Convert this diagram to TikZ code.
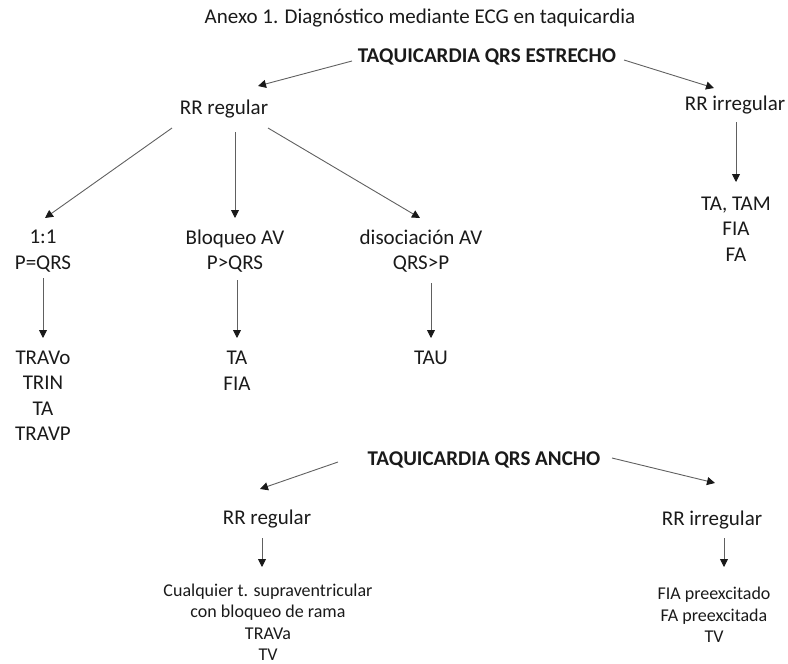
\documentclass[tikz,border=0pt]{standalone}
\usepackage{fontspec}
\setmainfont{Carlito}
\usetikzlibrary{arrows.meta}
\definecolor{txt}{HTML}{1A1A1A}
\definecolor{ln}{HTML}{606060}
\begin{document}
\begin{tikzpicture}[x=1pt,y=-1pt,
  lab/.style={inner sep=0pt,outer sep=0pt,align=center,text=txt,font=\fontsize{21}{25.5}\selectfont},
  hdr/.style={lab,font=\fontsize{21}{25.5}\selectfont\bfseries},
  small/.style={lab,font=\fontsize{18}{21.5}\selectfont},
  arr/.style={draw=ln,line width=0.9pt,-{Triangle[length=8pt,width=8pt,fill=black!90,color=black!90]}}]
\useasboundingbox (0,0) rectangle (788,664);
% nodes
\node[lab] (title) at (420,18) {Anexo 1. Diagnóstico mediante ECG en taquicardia};
\node[hdr] (estr) at (487,57) {TAQUICARDIA QRS ESTRECHO};
\node[lab] (rrl) at (224,109) {RR regular};
\node[lab] (rri) at (735,105) {RR irregular};
\node[lab] (one) at (43,251) {1:1\\P=QRS};
\node[lab] (bloq) at (235,251) {Bloqueo AV\\P>QRS};
\node[lab] (diso) at (421,251) {disociación AV\\QRS>P};
\node[lab] (res4) at (736,229) {TA, TAM\\FIA\\FA};
\node[lab] (res1) at (43,396) {TRAVo\\TRIN\\TA\\TRAVP};
\node[lab] (res2) at (237,371) {TA\\FIA};
\node[lab] (res3) at (431,358) {TAU};
\node[hdr] (ancho) at (484,460) {TAQUICARDIA QRS ANCHO};
\node[lab] (rrl2) at (267,519) {RR regular};
\node[lab] (rri2) at (712,520) {RR irregular};
\node[small] (res5) at (268,622) {Cualquier t. supraventricular\\con bloqueo de rama\\TRAVa\\TV};
\node[small] (res6) at (714,615) {FIA preexcitado\\FA preexcitada\\TV};
% connectors
\draw[arr] ([shift={(-135,4)}]estr.center) -- ([shift={(34,-23)}]rrl.center);
\draw[arr] ([shift={(137,3)}]estr.center) -- ([shift={(-21,-17)}]rri.center);
\draw[arr] ([shift={(-52,19)}]rrl.center) -- ([shift={(2,-33)}]one.center);
\draw[arr] ([shift={(11,23)}]rrl.center) -- ([shift={(0,-33)}]bloq.center);
\draw[arr] ([shift={(44,19)}]rrl.center) -- ([shift={(-1,-33)}]diso.center);
\draw[arr] ([shift={(1,17)}]rri.center) -- ([shift={(0,-47)}]res4.center);
\draw[arr] ([shift={(0,27)}]one.center) -- ([shift={(0,-58)}]res1.center);
\draw[arr] ([shift={(2,29)}]bloq.center) -- ([shift={(0,-33)}]res2.center);
\draw[arr] ([shift={(10,32)}]diso.center) -- ([shift={(0,-20)}]res3.center);
\draw[arr] ([shift={(-146,2)}]ancho.center) -- ([shift={(-7,-30)}]rrl2.center);
\draw[arr] ([shift={(128,-2)}]ancho.center) -- ([shift={(3,-37)}]rri2.center);
\draw[arr] ([shift={(-5,19)}]rrl2.center) -- ([shift={(-6,-55)}]res5.center);
\draw[arr] ([shift={(12,18)}]rri2.center) -- ([shift={(10,-48)}]res6.center);
\end{tikzpicture}
\end{document}
